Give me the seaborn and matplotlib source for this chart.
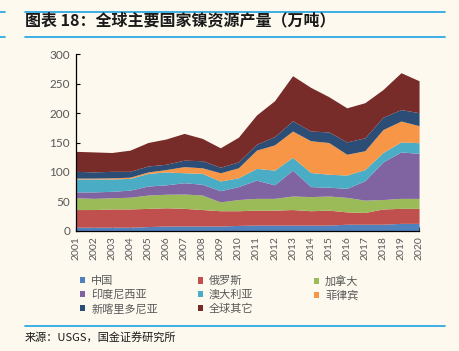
import matplotlib
matplotlib.use("Agg")
import matplotlib.pyplot as plt
from matplotlib.lines import Line2D
from matplotlib.patches import Patch
import seaborn as sns

years = list(range(2001, 2021))
china = [6, 6, 6, 6, 7, 8, 8, 8, 8, 9, 9.6, 9.6, 9.6, 9.6, 9.6, 11, 11, 11, 12.5, 12.5]
russia = [30, 30, 31, 31, 31, 31, 30, 28, 26, 25, 25.4, 25.4, 26.4, 24.4, 25.4, 21, 20, 26, 25.5, 25.5]
canada = [20, 19, 19, 20, 22.6, 23, 24.4, 24.7, 15, 19, 20, 20, 23, 24, 24, 24.7, 21, 16, 17, 17]
indonesia = [10, 11, 11, 12, 15.4, 16, 19.2, 18.3, 19, 22, 31, 23, 44, 17, 15, 15.3, 33, 64, 79, 76.5]
australia = [22, 22, 21, 20, 21.5, 22, 17, 18.5, 16.5, 15, 20, 25, 21.7, 24, 22, 22.7, 19, 16, 17, 18.2]
philippines = [1.5, 1.5, 2, 2, 2.5, 4, 10.4, 9.5, 14, 17, 31, 43, 44.8, 54, 54, 35.3, 32, 39, 35.5, 28.9]
new_caledonia = [11.5, 10.5, 11, 10, 10, 9, 11, 12, 9.5, 10, 10, 14, 17.5, 16.5, 18, 21, 22, 21, 19.5, 22.1]
others = [34, 34, 32, 36, 40, 43, 45.5, 38, 33, 42, 49.7, 61, 76.6, 74.3, 60, 58, 59.7, 47, 62.7, 54.3]

names = ["中国", "俄罗斯", "加拿大", "印度尼西亚", "澳大利亚", "菲律宾", "新喀里多尼亚", "全球其它"]
colors = ["#4F81BD", "#C0504D", "#9BBB59", "#8064A2", "#4BACC6", "#F79646", "#2C4D75", "#772C2A"]

bg = "#FDF9EF"
grey = "#595959"

sns.set_style("ticks")
plt.rcParams["font.family"] = ["Noto Sans CJK SC", "DejaVu Sans"]

fig = plt.figure(figsize=(4.59, 3.51), dpi=100, facecolor=bg)
ax = fig.add_axes([0.165, 0.3427, 0.748, 0.5026], facecolor=bg)

series = [china, russia, canada, indonesia, australia, philippines, new_caledonia, others]
ax.stackplot(years, series, colors=sns.color_palette(colors), linewidth=0)

ax.set_xlim(2001, 2020)
ax.set_ylim(0, 300)
ax.set_yticks(range(0, 301, 50))
ax.set_xticks(years)
ax.set_xticklabels([str(y) for y in years], rotation=90, fontsize=7.5, color=grey, family=["Lato", "DejaVu Sans"])
for lab in ax.get_yticklabels():
    lab.set_fontsize(8.5)
    lab.set_color(grey)
    lab.set_family(["Lato", "DejaVu Sans"])
ax.tick_params(axis="both", direction="in", length=3, width=0.8, color="black", pad=4)
sns.despine(ax=ax)
ax.spines["left"].set_color("black")
ax.spines["bottom"].set_color("black")
ax.spines["left"].set_linewidth(0.9)
ax.spines["bottom"].set_linewidth(0.9)
ax.set_zorder(1)

# legend: three columns placed like the original (row-major order)
columns = [[0, 3, 6], [1, 4, 7], [2, 5]]
col_x = [80, 197.5, 314]
for idx, x in zip(columns, col_x):
    handles = [Patch(facecolor=colors[i], edgecolor="none") for i in idx]
    leg = fig.legend(handles, [names[i] for i in idx], loc="upper left",
                     bbox_to_anchor=(x / 459, 1 - 276 / 351), frameon=False, fontsize=8,
                     handlelength=0.45, handleheight=0.5, handletextpad=0.55,
                     labelspacing=0.3, labelcolor=grey, borderaxespad=0, borderpad=0)

# title and blue rules
fig.text(25 / 459, 1 - 20 / 351, "图表 18：全球主要国家镍资源产量（万吨）", fontsize=11.5,
         fontweight="bold", style="italic", color="#1A1A1A", va="center", ha="left")
blue = "#1AA3E0"
for y in [12, 37]:
    fig.add_artist(Line2D([25 / 459, 445 / 459], [1 - y / 351] * 2, color=blue, lw=1.2))
    fig.add_artist(Line2D([0, 5 / 459], [1 - y / 351] * 2, color=blue, lw=1.2))
fig.add_artist(Line2D([25 / 459, 445 / 459], [1 - 326 / 351] * 2, color=blue, lw=1.2))

fig.text(25 / 459, 1 - 337 / 351, "来源：USGS，国金证券研究所", fontsize=8, color="#1A1A1A",
         va="center", ha="left")

fig.savefig("out.png", dpi=100, facecolor=bg)
